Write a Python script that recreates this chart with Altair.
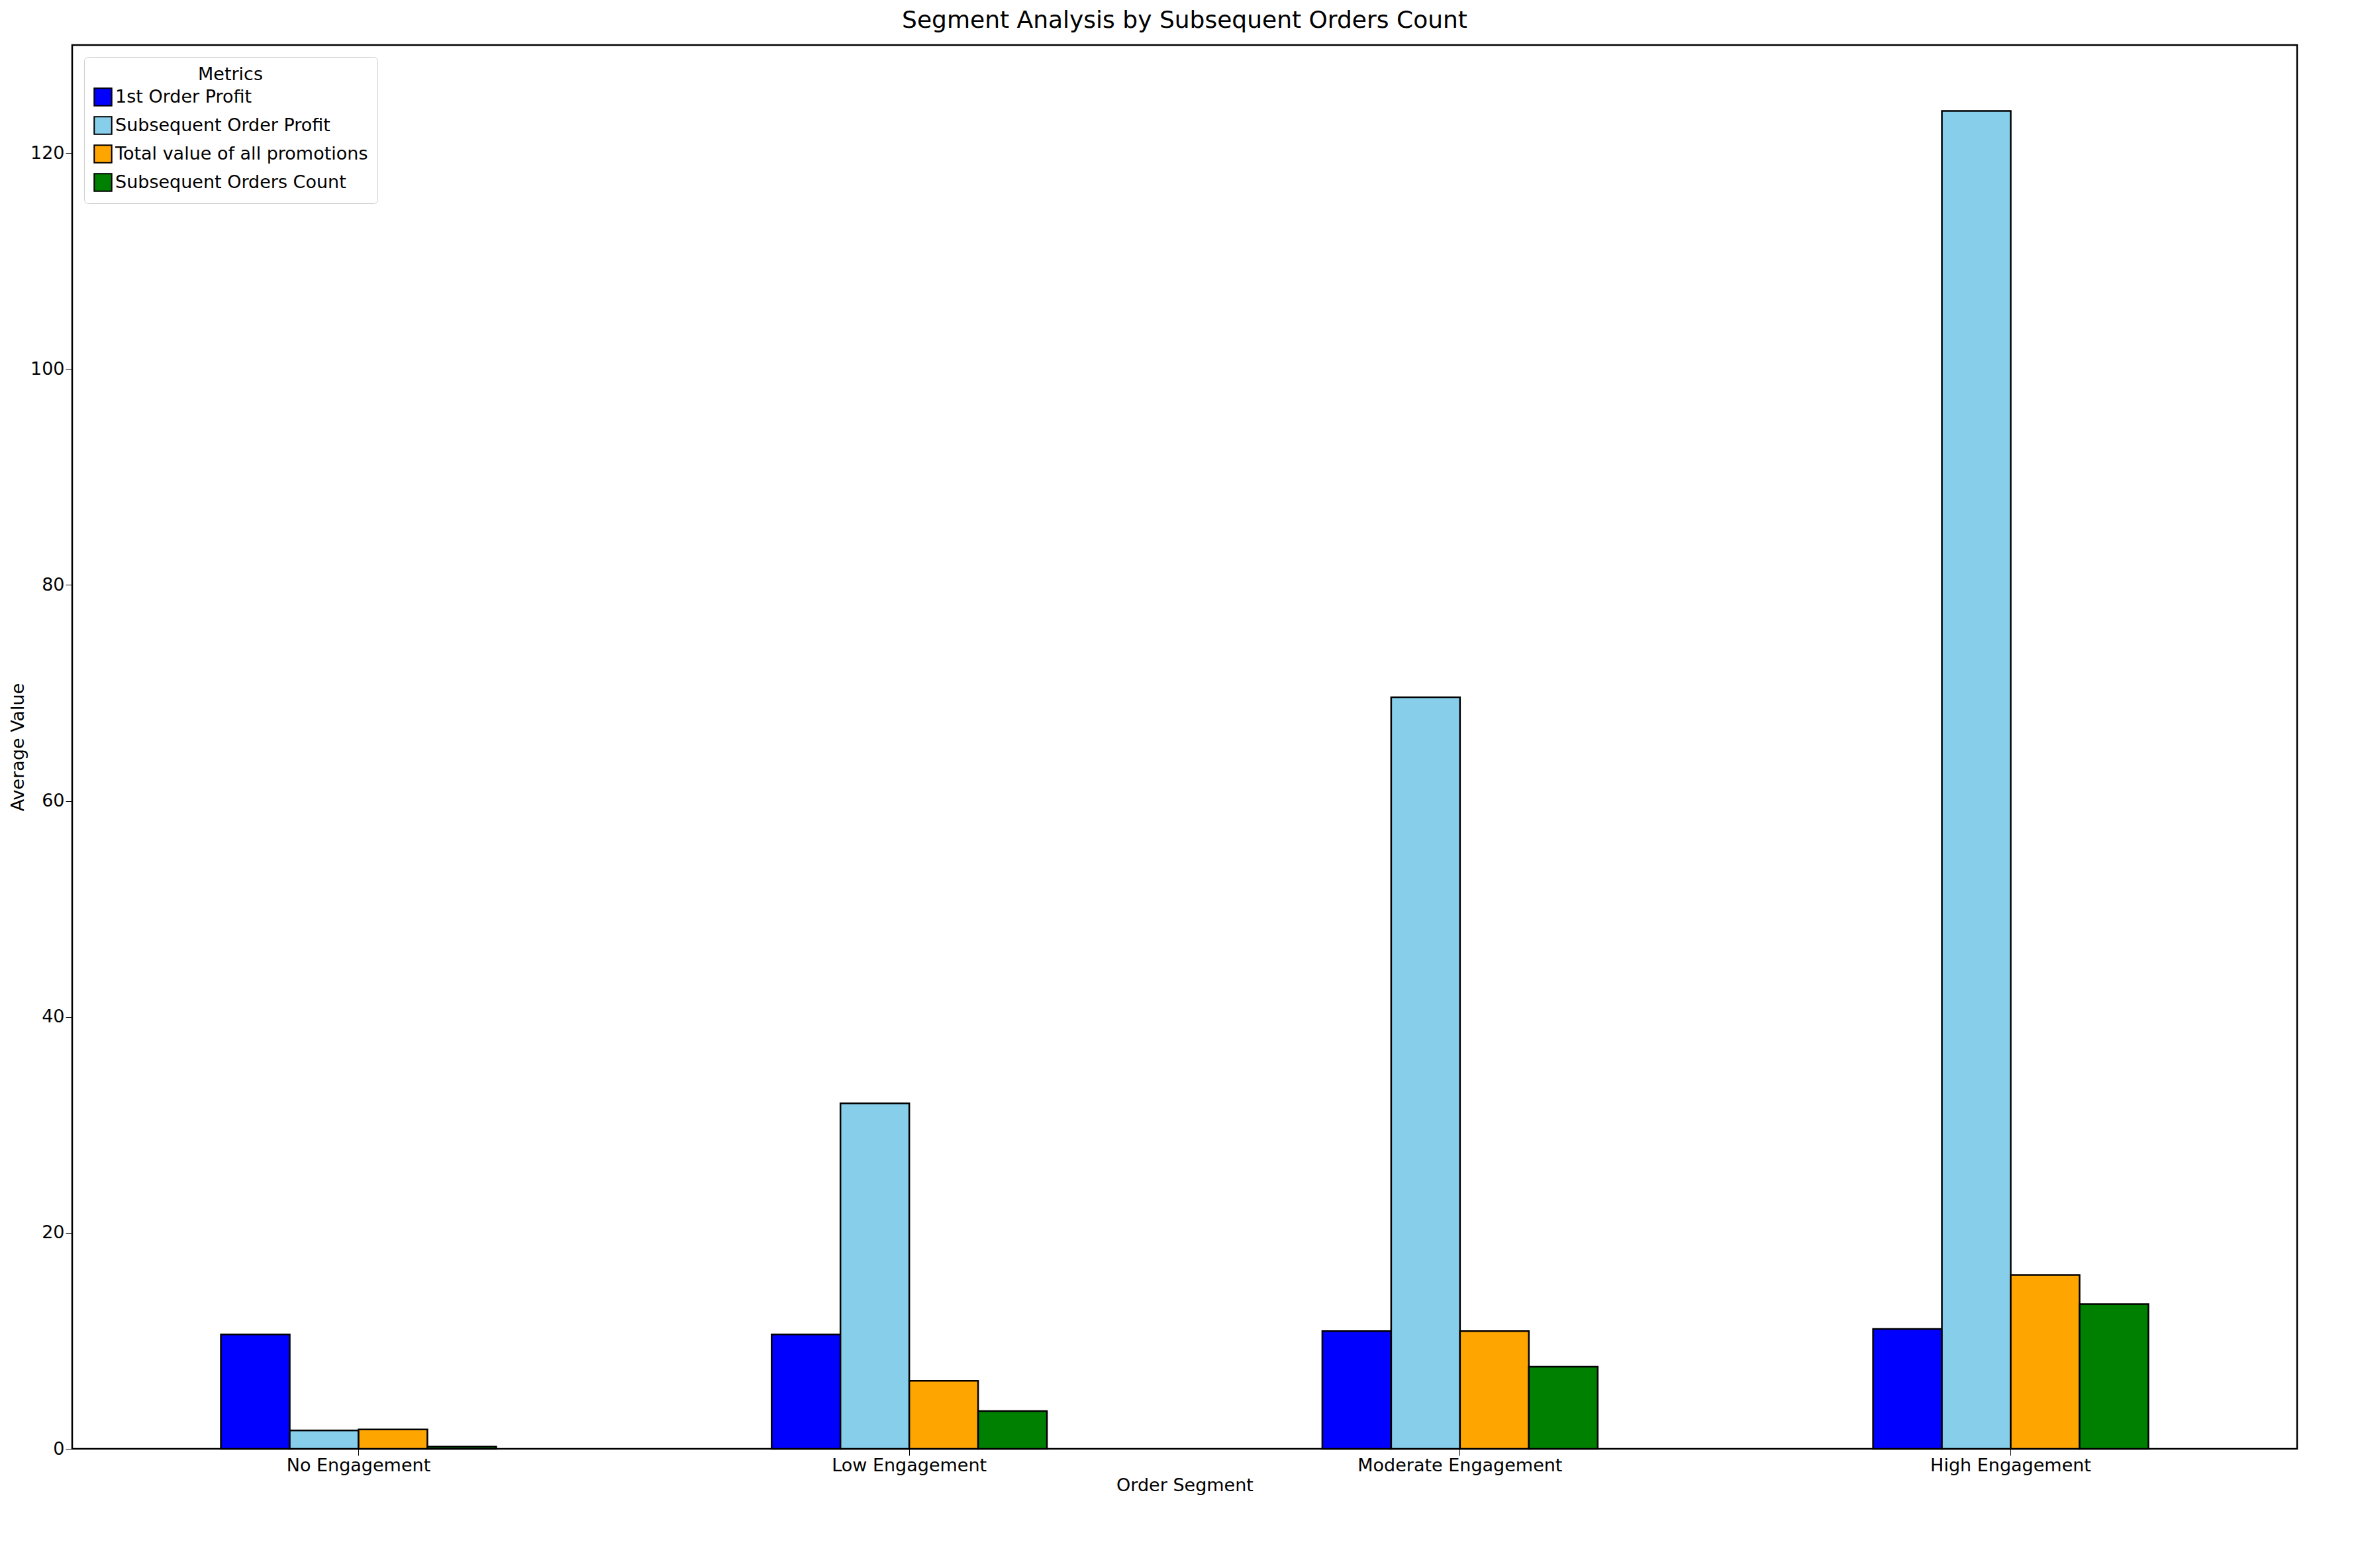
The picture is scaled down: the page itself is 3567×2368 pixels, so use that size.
import altair as alt
import pandas as pd

segments = ["No Engagement", "Low Engagement", "Moderate Engagement", "High Engagement"]
metrics = ["1st Order Profit", "Subsequent Order Profit", "Total value of all promotions", "Subsequent Orders Count"]
colors = ["#0000ff", "#87ceeb", "#ffa500", "#008000"]
first_profit = [10.6, 10.6, 10.9, 11.1]
subseq_profit = [1.7, 32.0, 69.6, 123.9]
promotions = [1.8, 6.3, 10.9, 16.1]
subseq_count = [0.2, 3.5, 7.6, 13.4]

rows = []
for i, s in enumerate(segments):
    for m, vals in zip(metrics, [first_profit, subseq_profit, promotions, subseq_count]):
        rows.append({"Segment": s, "Metric": m, "Value": vals[i]})
df = pd.DataFrame(rows)

F = "DejaVu Sans"
chart = alt.Chart(df).mark_bar(stroke="black", strokeWidth=2.5).encode(
    x=alt.X("Segment:N", sort=segments, title="Order Segment",
            scale=alt.Scale(paddingInner=0.5, paddingOuter=0.27),
            axis=alt.Axis(labelAngle=0, labelFontSize=27, titleFontSize=27, labelFont=F, titleFont=F,
                          labelLimit=0, titleFontWeight="normal",
                          tickSize=10, domainColor="black", tickColor="black", labelColor="black", titleColor="black")),
    xOffset=alt.XOffset("Metric:N", sort=metrics),
    y=alt.Y("Value:Q", title="Average Value", scale=alt.Scale(domain=[0, 130], nice=False),
            axis=alt.Axis(values=list(range(0, 121, 20)), grid=False, labelFontSize=27, titleFontSize=27,
                          labelFont=F, titleFont=F, titleFontWeight="normal", tickSize=10,
                          domainColor="black", tickColor="black",
                          labelColor="black", titleColor="black")),
    color=alt.Color("Metric:N", sort=metrics, scale=alt.Scale(domain=metrics, range=colors),
                    legend=alt.Legend(title="Metrics", orient="top-left", titleFontSize=27, labelFontSize=27,
                                      titleFont=F, labelFont=F, titleFontWeight="normal", titleAlign="center",
                                      titleAnchor="middle", symbolType="square", symbolSize=700,
                                      symbolStrokeColor="black", symbolStrokeWidth=2, labelLimit=0,
                                      strokeColor="#cccccc", fillColor="white", padding=14, cornerRadius=6,
                                      rowPadding=8, offset=18)),
).properties(
    width=3360, height=2120,
    title=alt.Title("Segment Analysis by Subsequent Orders Count", fontSize=36, font=F, fontWeight="normal",
                    color="black", offset=18),
).configure_view(stroke="black", strokeWidth=2.5)

chart.save("out.html", embed_options={"renderer": "svg", "actions": False})
